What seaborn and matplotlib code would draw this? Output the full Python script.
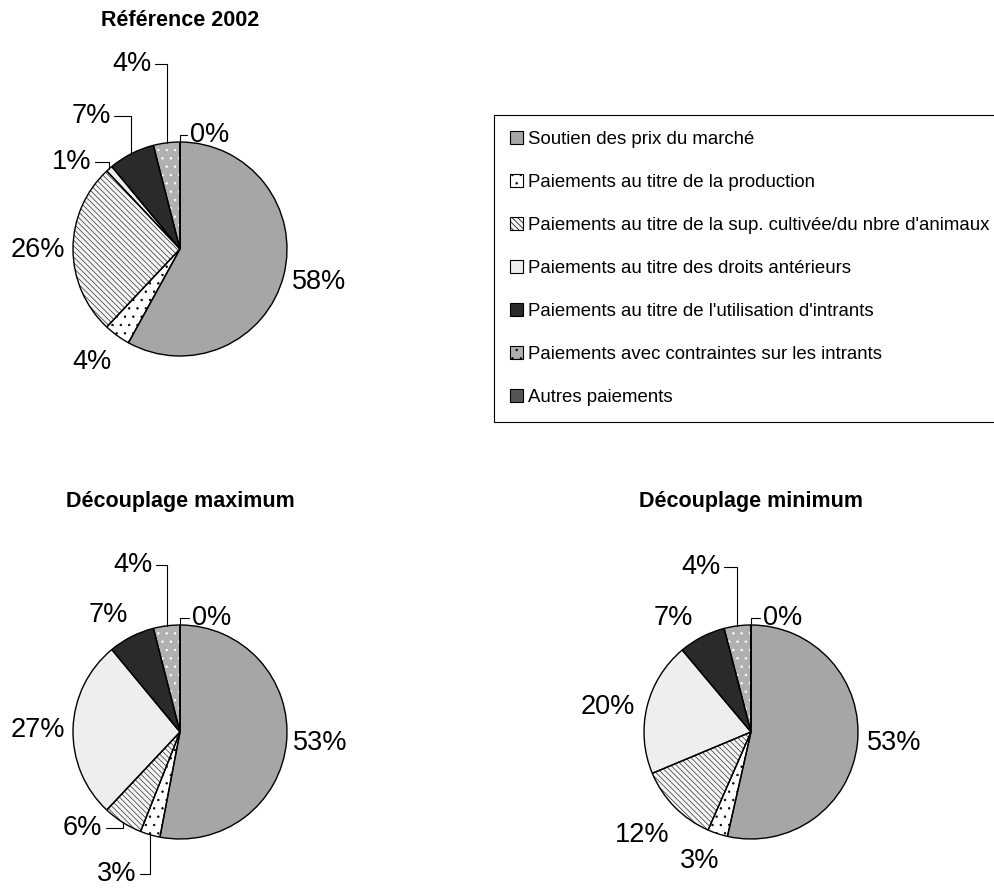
import matplotlib
matplotlib.use("Agg")
import matplotlib.pyplot as plt
from matplotlib.patches import Patch
import numpy as np
import seaborn as sns

categories = [
    "Soutien des prix du marché",
    "Paiements au titre de la production",
    "Paiements au titre de la sup. cultivée/du nbre d'animaux",
    "Paiements au titre des droits antérieurs",
    "Paiements au titre de l'utilisation d'intrants",
    "Paiements avec contraintes sur les intrants",
    "Autres paiements",
]
titles = ["Référence 2002", "Découplage maximum", "Découplage minimum"]
ref_2002 = [58, 4, 26, 1, 7, 4, 0]
decouplage_max = [53, 3, 6, 27, 7, 4, 0]
decouplage_min = [53, 3, 12, 20, 7, 4, 0]

# styles
colors = ["#A6A6A6", "#FFFFFF", "#F4F4F4", "#EEEEEE", "#2A2A2A", "#B0B0B0", "#555555"]
hatches = [None, "..", "\\" * 6, None, None, "..", None]
hatch_colors = ["#A6A6A6", "black", "#333333", "#EEEEEE", "#2A2A2A", "white", "#555555"]

# layout (pixels): pie centers and label offsets (in radius units)
W, H = 995, 888
R = 107
centers = [(180, 249), (180, 732), (751, 732)]
label_pos = [
    [(1.30, -0.31), (-0.82, -1.06), (-1.33, -0.01), (-1.01, 0.81), (-0.83, 1.24), (-0.45, 1.73), (0.28, 1.07)],
    [(1.31, -0.10), (-0.59, -1.33), (-0.91, -0.90), (-1.33, 0.02), (-0.67, 1.09), (-0.44, 1.56), (0.30, 1.07)],
    [(1.34, -0.10), (-0.48, -1.21), (-1.02, -0.96), (-1.34, 0.23), (-0.73, 1.07), (-0.47, 1.54), (0.30, 1.07)],
]
leaders = [
    [False, False, False, True, True, True, True],
    [False, True, True, False, False, True, True],
    [False, False, False, False, False, True, True],
]
title_y = [20, 502, 502]

sns.set_theme(style="white")
plt.rcParams["font.family"] = ["Liberation Sans", "DejaVu Sans"]
plt.rcParams["text.color"] = "black"
plt.rcParams["hatch.linewidth"] = 0.5

fig = plt.figure(figsize=(W / 100, H / 100), dpi=100)
fig.patch.set_facecolor("white")

for k, values in enumerate([ref_2002, decouplage_max, decouplage_min]):
    cx, cy = centers[k]
    hw, hh = 1.6, 1.8
    ax = fig.add_axes([(cx - hw * R) / W, 1 - (cy + hh * R) / H, 2 * hw * R / W, 2 * hh * R / H])

    wedges, _ = ax.pie(values, colors=colors, hatch=hatches, startangle=90,
                       counterclock=False, wedgeprops=dict(linewidth=0))
    for w, hc in zip(wedges, hatch_colors):
        w.set_edgecolor(hc)
        w.set_linewidth(0)
    ax.pie(values, startangle=90, counterclock=False,
           wedgeprops=dict(edgecolor="black", linewidth=1.0, fill=False))

    # pie() resets the limits, so fix them afterwards
    ax.set_xlim(-hw, hw)
    ax.set_ylim(-hh, hh)
    ax.set_aspect("equal")
    ax.axis("off")

    for w, v, pos, lead in zip(wedges, values, label_pos[k], leaders[k]):
        theta = np.deg2rad((w.theta1 + w.theta2) / 2)
        edge = (np.cos(theta), np.sin(theta))
        if lead:
            ax.annotate(f"{v}%", xy=edge, xytext=pos, ha="center", va="center",
                        fontsize=19.5, color="black",
                        arrowprops=dict(arrowstyle="-", color="black", lw=0.8,
                                        shrinkA=0, shrinkB=0,
                                        connectionstyle="angle,angleA=0,angleB=90,rad=0"))
        else:
            ax.text(pos[0], pos[1], f"{v}%", ha="center", va="center",
                    fontsize=19.5, color="black")

    fig.text(cx / W, 1 - title_y[k] / H, titles[k], ha="center", va="center",
             fontsize=15.5, fontweight="bold", color="black")

handles = [Patch(facecolor=c, hatch=h, edgecolor="black", linewidth=0.8)
           for c, h in zip(colors, hatches)]
leg = fig.legend(handles, categories, loc="upper left",
                 bbox_to_anchor=(494 / W, 1 - 115 / H), borderaxespad=0,
                 fontsize=13.4, frameon=True, fancybox=False, framealpha=1,
                 borderpad=0.85, labelspacing=1.4, handlelength=0.7,
                 handleheight=0.7, handletextpad=0.3)
leg.get_frame().set_edgecolor("black")
leg.get_frame().set_linewidth(0.8)
for t in leg.get_texts():
    t.set_color("black")

fig.savefig("out.png", dpi=100, facecolor="white")
